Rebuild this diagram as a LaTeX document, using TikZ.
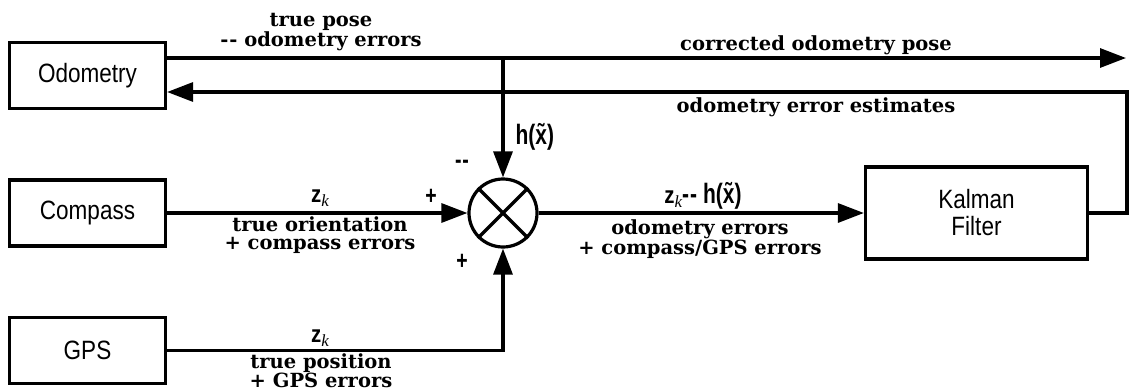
\documentclass[tikz,border=0pt]{standalone}
\usepackage{fontspec}
\usetikzlibrary{arrows.meta,positioning}
\newfontfamily\boxfont[FakeStretch=0.85]{Liberation Sans}
\newfontfamily\symfont[FakeStretch=0.75]{Liberation Sans}
\newfontfamily\lblfont{DejaVu Serif}
\newfontfamily\kfont{Liberation Serif}
\newcommand\twodash{-\kern1pt-}
\newcommand\zk{{\boxfont\bfseries\fontsize{24}{24}\selectfont z}\raisebox{-4pt}{\kfont\itshape\fontsize{17}{17}\selectfont k}}
\newcommand\hx{{\symfont\bfseries\fontsize{28}{28}\selectfont h(\~{x})}}

\begin{document}
\begin{tikzpicture}[x=1pt, y=-1pt, line width=3.2pt,
  blk/.style={draw, rectangle, minimum width=156pt, minimum height=66pt, inner sep=0pt, align=center, font=\boxfont\fontsize{26.5}{27}\selectfont},
  lbl/.style={inner sep=0pt, align=center, font=\lblfont\bfseries\fontsize{19.5}{18.5}\selectfont},
  sgn/.style={inner sep=0pt, font=\symfont\bfseries\fontsize{26}{26}\selectfont},
  arr/.style={-{Triangle[length=26pt, width=19pt]}}]
  \useasboundingbox (0,0) rectangle (1130,391);
  % blocks
  \node[blk] (odo) at (87.5,75.5) {Odometry};
  \node[blk] (comp) at (87.5,213) {Compass};
  \node[blk] (gps) at (87.5,350.5) {GPS};
  \node[blk, minimum width=222pt, minimum height=92pt] (kf) at (976.5,213) {Kalman\\Filter};
  \node[draw, circle, minimum size=68pt, inner sep=0pt] (sum) at (503,213) {};
  \draw (sum.north west) -- (sum.south east) (sum.south west) -- (sum.north east);
  \coordinate (pose) at (1126,58);
  \coordinate (tap) at (503,58);
  \coordinate (fb) at (1127,92);
  % connectors
  \draw[arr] (odo.east |- pose) -- (pose);
  \draw[arr] (tap) -- (sum.north);
  \draw[arr] (kf.east) -| (fb) -- (odo.east |- fb);
  \draw[arr] (comp.east) -- (sum.west);
  \draw[arr] (gps.east) -| (sum.south);
  \draw[arr] (sum.east) -- (kf.west);
  % labels
  \node[lbl, anchor=south] (tpose) at (321,52) {true pose\\\twodash{} odometry errors};
  \node[lbl, anchor=base] (corr) at (816,50) {corrected odometry pose};
  \node[lbl, anchor=base] (est) at (816,112) {odometry error estimates};
  \node[inner sep=0pt, anchor=base west] (hxl) at (514,144) {\hx};
  \node[sgn] (minus) at (462,164) {\twodash};
  \node[sgn] (plusl) at (431,197) {+};
  \node[sgn] (plusb) at (462,262) {+};
  \node[inner sep=0pt, anchor=base] (zc) at (320,202) {\zk};
  \node[lbl, anchor=north] (orient) at (320,215) {true orientation\\+ compass errors};
  \node[inner sep=0pt, anchor=base] (zd) at (703,203) {\zk{\symfont\bfseries\fontsize{28}{28}\selectfont\twodash{} }\hx};
  \node[lbl, anchor=north] (errs) at (700,218) {odometry errors\\+ compass/GPS errors};
  \node[inner sep=0pt, anchor=base] (zg) at (320,342) {\zk};
  \node[lbl, anchor=north, font=\lblfont\bfseries\fontsize{19.5}{18}\selectfont] (posn) at (321,352) {true position\\+ GPS errors};
\end{tikzpicture}
\end{document}
